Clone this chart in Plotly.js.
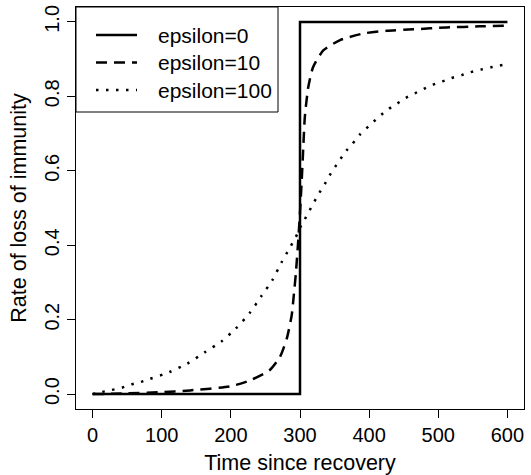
<!DOCTYPE html>
<html>
<head>
<meta charset="utf-8">
<script src="https://cdn.plot.ly/plotly-3.0.1.min.js"></script>
<style>html,body{margin:0;padding:0;background:#fff;}#chart{width:531px;height:475px;}</style>
</head>
<body>
<div id="chart"></div>
<script>
// Series: epsilon = 0 (step)
var t_eps0 = [0, 300, 300, 600];
var v_eps0 = [0, 0, 1, 1];

// Series: epsilon = 10
var t_eps10 = [0, 50, 97, 141, 199, 228, 256, 271, 281, 288, 291, 294, 297.5, 300, 302.5, 305, 307, 312, 319, 334, 358, 392, 425, 464, 512, 560, 600];
var v_eps10 = [0, 0.002, 0.005, 0.010, 0.021, 0.037, 0.064, 0.100, 0.150, 0.212, 0.265, 0.324, 0.414, 0.488, 0.575, 0.673, 0.745, 0.825, 0.879, 0.924, 0.951, 0.969, 0.976, 0.980, 0.985, 0.988, 0.990];

// Series: epsilon = 100
var t_eps100 = [0, 14, 27, 42, 56, 70, 83, 111, 137, 162, 186, 207, 227, 244, 260, 273, 280, 287, 294, 300, 307, 314, 321, 328, 336, 343, 351, 359, 367, 376, 386, 396, 407, 418, 429, 441, 453, 466, 479, 492, 506, 519, 534, 547, 562, 576, 589, 600];
var v_eps100 = [0, 0.006, 0.011, 0.017, 0.026, 0.033, 0.041, 0.059, 0.082, 0.112, 0.141, 0.176, 0.217, 0.263, 0.306, 0.353, 0.376, 0.399, 0.422, 0.447, 0.470, 0.494, 0.518, 0.541, 0.565, 0.588, 0.611, 0.633, 0.654, 0.673, 0.696, 0.714, 0.733, 0.751, 0.767, 0.781, 0.796, 0.808, 0.820, 0.831, 0.840, 0.849, 0.857, 0.865, 0.872, 0.878, 0.883, 0.887];

var seriesNames = ["epsilon=0", "epsilon=10", "epsilon=100"];
var xTicks = [0, 100, 200, 300, 400, 500, 600];
var yTicks = [0, 0.2, 0.4, 0.6, 0.8, 1.0];
var yTickText = ["0.0", "0.2", "0.4", "0.6", "0.8", "1.0"];

var FONT = "Liberation Sans, Arial, Helvetica, sans-serif";
var dashes = ["solid", "11px,7px", "2.5px,7.5px"];

var traces = [
  {x: t_eps0, y: v_eps0, name: seriesNames[0], mode: "lines", line: {color: "#000", width: 2.5, dash: dashes[0]}},
  {x: t_eps10, y: v_eps10, name: seriesNames[1], mode: "lines", line: {color: "#000", width: 2.5, dash: dashes[1], shape: "spline", smoothing: 0.6}},
  {x: t_eps100, y: v_eps100, name: seriesNames[2], mode: "lines", line: {color: "#000", width: 2.5, dash: dashes[2], shape: "spline", smoothing: 0.6}}
];

var axisCommon = {
  showgrid: false, zeroline: false, showline: true, mirror: true,
  linecolor: "#000", linewidth: 1, ticks: "outside", ticklen: 8, tickwidth: 1, tickcolor: "#000",
  tickfont: {family: FONT, size: 20, color: "#000"}
};

// plot area in pixels (for legend placement in paper units)
var PL = 76, PR = 524, PT = 7, PB = 409;
function px2x(p) { return (p - PL) / (PR - PL); }
function px2y(p) { return (PB - p) / (PB - PT); }

var legendRows = [35, 62.5, 90];
var shapes = [{
  type: "rect", xref: "paper", yref: "paper",
  x0: 0, x1: px2x(278), y0: px2y(112), y1: 1,
  line: {color: "#000", width: 1}, fillcolor: "rgba(0,0,0,0)", layer: "above"
}];
var annotations = [];
seriesNames.forEach(function (nm, i) {
  shapes.push({
    type: "line", xref: "paper", yref: "paper",
    x0: px2x(96), x1: px2x(137), y0: px2y(legendRows[i]), y1: px2y(legendRows[i]),
    line: {color: "#000", width: 2.5, dash: dashes[i]}
  });
  annotations.push({
    xref: "paper", yref: "paper", x: px2x(156), y: px2y(legendRows[i]),
    xanchor: "left", yanchor: "middle", showarrow: false, text: nm,
    font: {family: FONT, size: 21, color: "#000"}
  });
});

var layout = {
  width: 531, height: 475,
  margin: {l: 76, r: 7, t: 7, b: 66},
  paper_bgcolor: "#fff", plot_bgcolor: "#fff",
  font: {family: FONT, size: 20, color: "#000"},
  xaxis: Object.assign({}, axisCommon, {
    range: [-24, 624], tickvals: xTicks, ticktext: xTicks.map(String),
    title: {text: "Time since recovery", font: {family: FONT, size: 21.5, color: "#000"}, standoff: 10}
  }),
  yaxis: Object.assign({}, axisCommon, {
    range: [-0.04, 1.04], tickvals: yTicks, ticktext: yTickText, tickangle: -90,
    title: {text: "Rate of loss of immunity", font: {family: FONT, size: 21.5, color: "#000"}, standoff: 8}
  }),
  showlegend: false,
  shapes: shapes,
  annotations: annotations
};

Plotly.newPlot("chart", traces, layout, {displayModeBar: false, staticPlot: true});
</script>
</body>
</html>
